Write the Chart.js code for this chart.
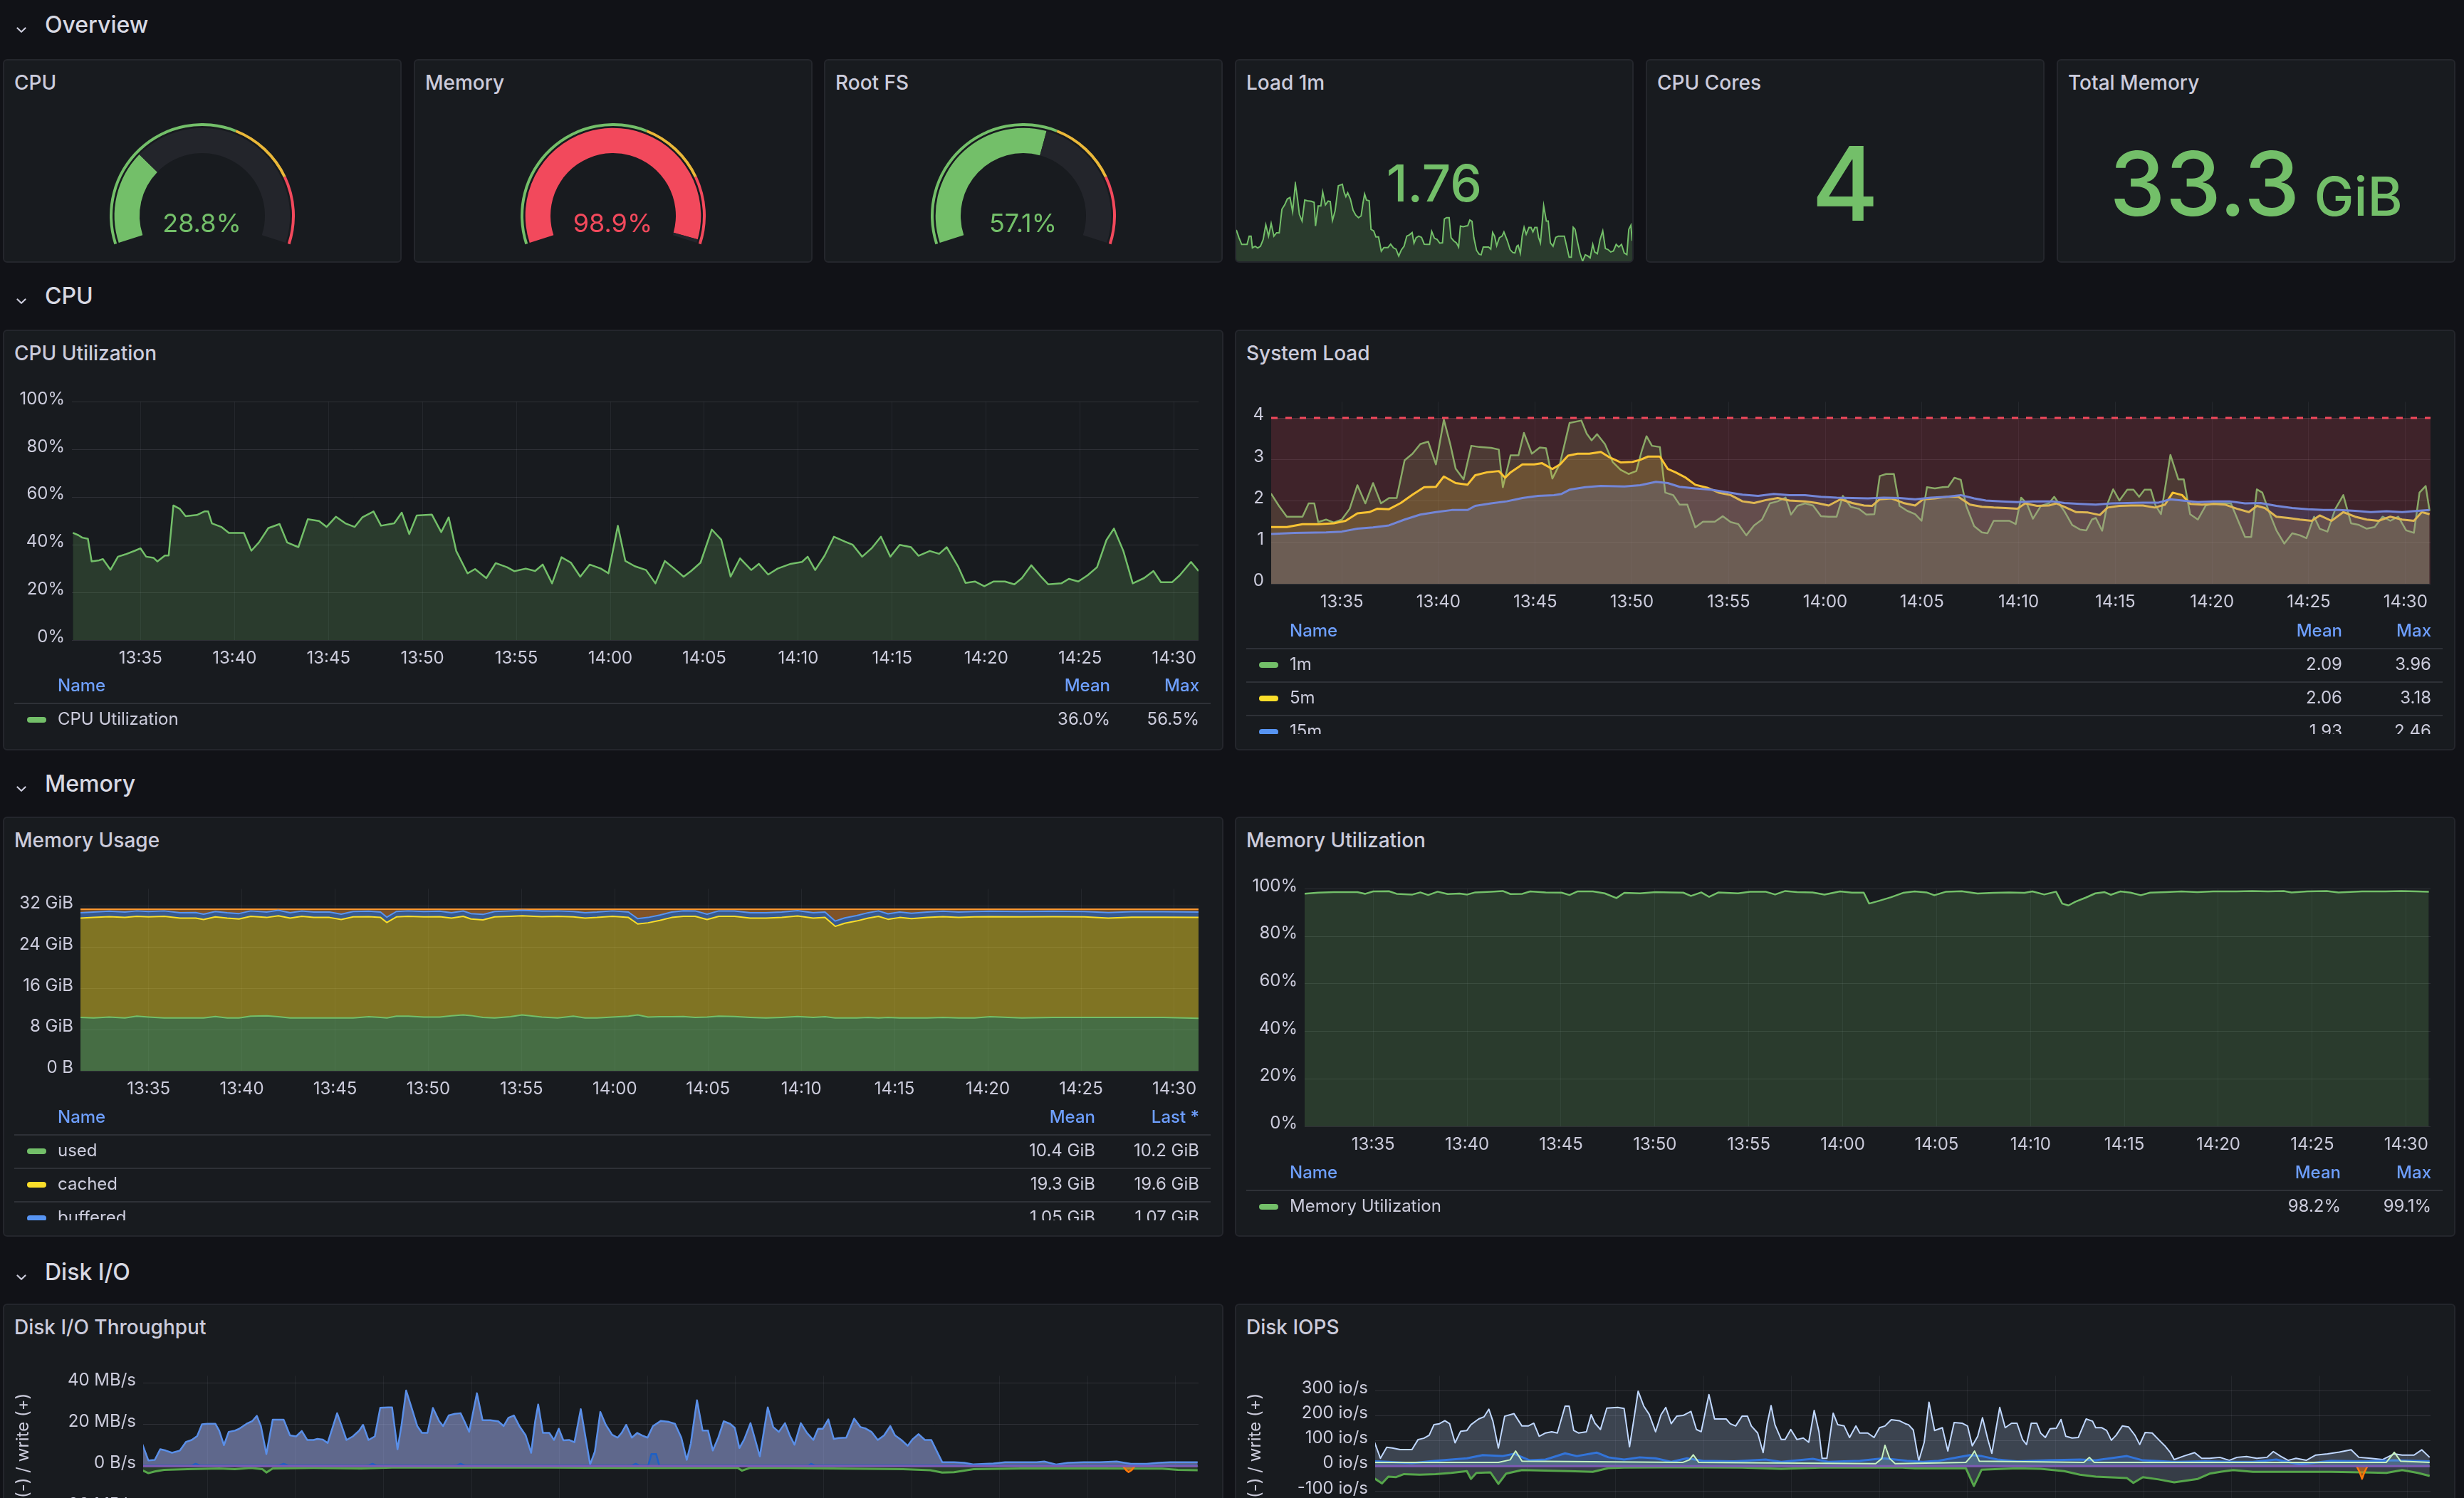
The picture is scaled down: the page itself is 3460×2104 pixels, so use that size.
<!DOCTYPE html>
<html><head><meta charset="utf-8">
<script src="https://cdn.jsdelivr.net/npm/chart.js@4.4.1/dist/chart.umd.min.js"></script>
<style>
html,body{margin:0;padding:0}
body{width:3460px;height:2104px;overflow:hidden;background:#111217;position:relative;font-family:Inter,"Noto Sans",sans-serif;color:#ccccdc}
</style></head><body>
<script>
// ---------------- DATA ----------------
const rowTitles = ['Overview', 'CPU', 'Memory', 'Disk I/O'];
const timeTicks = [5, 10, 15, 20, 25, 30, 35, 40, 45, 50, 55, 60]; // minutes after 13:30
const timeLabels = ['13:35','13:40','13:45','13:50','13:55','14:00','14:05','14:10','14:15','14:20','14:25','14:30'];

const gaugeNames = ['CPU', 'Memory', 'Root FS'];
const gaugeValues = [28.8, 98.9, 57.1];
const gaugeThresholds = [60, 80];
const loadStat = '1.76';
const coresStat = '4';
const totalMemStat = ['33.3', 'GiB'];

const cpuTimes = [1.4,1.7,1.9,2.2,2.4,2.8,3.0,3.4,3.8,4.2,4.7,5.0,5.3,5.7,5.9,6.3,6.5,6.75,7.1,7.4,8.0,8.4,8.6,8.8,9.3,9.7,10.5,10.9,11.3,11.8,12.4,12.8,13.4,13.9,14.5,14.9,15.4,15.9,16.4,16.8,17.4,17.8,18.5,18.9,19.3,19.7,20.5,21.0,21.4,21.8,22.4,22.8,23.4,23.9,24.5,24.9,25.5,26.0,26.4,26.9,27.4,27.9,28.4,28.9,29.5,29.9,30.4,30.8,31.3,31.9,32.4,32.9,33.4,33.9,34.3,34.8,35.4,35.9,36.4,36.9,37.5,37.9,38.4,38.9,39.6,40.2,40.5,40.9,41.4,41.9,42.5,42.9,43.4,43.9,44.4,44.9,45.4,46.0,46.4,47.0,47.5,47.9,48.5,48.9,49.4,49.9,50.4,51.0,51.5,51.9,52.4,52.9,53.3,54.0,54.4,54.9,55.4,55.9,56.4,56.8,57.3,57.8,58.4,58.9,59.3,59.9,60.3,60.9,61.3];
const cpuValues = [45,44,43,42.5,33,33.5,34,29.5,35,36,37.5,38.5,35,34.5,33,35.5,35.5,56.5,55,52,52.5,54,54,49,47.5,45,45,37.5,41,47,48.7,41,39,50.7,50,47.5,51.8,49,47.5,51.5,54,48,49,53.5,44.5,52.3,52.7,45.3,51.5,37.4,28,29.8,26,32.3,30.6,28.9,30,29,31.7,23.8,34.8,32.5,26.6,31.7,30,28,48,33.2,31,29.4,23.8,33.2,30,26.6,29,32.5,46.4,42.2,26.6,34.3,29.4,32,27.5,30,32,32.8,35,29.4,35.4,43.4,41.3,40,35,38.5,43.4,35,40,39,35.4,37.4,36.2,39,31,24,24.6,22.6,24.6,24.6,23.4,26,31.4,26.8,23.4,23.8,25.7,24.6,27.2,30.6,42,46.8,37.4,23.8,26,29,24.3,24.3,27.2,32.8,29];

const load1mTimes = [1.34,1.75,2.16,2.56,2.97,3.29,3.58,3.78,4.19,4.59,5.0,5.41,5.81,6.22,6.62,7.03,7.44,7.84,8.25,8.66,9.06,9.47,9.87,10.28,10.61,10.89,11.3,11.7,12.11,12.72,13.12,13.33,13.73,14.14,14.42,14.83,15.24,15.56,15.89,16.29,16.78,17.39,17.67,17.92,18.2,18.61,19.01,19.42,19.83,20.23,20.52,20.76,21.04,21.45,21.73,22.14,22.47,22.87,23.28,23.68,24.29,24.7,25.11,25.51,25.92,26.32,26.73,27.14,27.54,27.95,28.23,28.56,28.96,29.37,29.78,30.18,30.59,30.91,31.32,31.73,32.13,32.54,32.82,33.15,33.55,33.84,34.24,34.65,34.98,35.26,35.67,36.07,36.36,36.68,37.01,37.29,37.7,38.1,38.39,38.71,39.12,39.52,39.85,40.13,40.42,40.74,41.15,41.56,41.84,42.08,42.37,42.77,43.18,43.5,43.79,43.99,44.32,44.6,44.89,45.21,45.62,45.94,46.23,46.51,46.84,47.08,47.36,47.85,48.26,48.54,48.87,49.27,49.68,50.08,50.49,50.98,51.38,51.71,52.03,52.32,52.6,52.93,53.33,53.74,54.15,54.55,54.88,55.28,55.57,55.97,56.38,56.79,57.19,57.6,58.0,58.41,58.82,59.22,59.63,60.04,60.44,60.73,61.05,61.25];
const load1mValues = [2.18,1.88,1.62,1.62,1.62,1.94,1.94,1.49,1.55,1.48,1.55,1.81,2.38,1.94,2.43,1.94,2.07,2.07,2.98,3.14,3.37,3.43,2.88,3.96,3.37,2.78,2.52,3.33,3.30,3.28,3.24,2.33,3.1,3.1,3.64,3.14,3.29,3.27,2.54,2.91,3.88,3.94,3.62,3.46,3.61,3.37,2.94,2.75,2.65,2.72,3.22,3.56,3.33,3.30,2.2,2.14,1.91,1.91,1.36,1.5,1.5,1.63,1.49,1.44,1.17,1.41,1.55,1.94,1.99,2.08,1.67,1.88,1.94,1.89,1.63,1.62,1.62,2.12,1.86,1.81,1.67,1.68,2.6,2.65,2.65,1.88,1.76,1.68,1.52,2.33,2.3,2.33,2.34,2.56,2.51,1.88,1.39,1.24,1.22,1.52,1.52,1.52,1.44,2.08,1.94,1.57,1.88,1.94,2.1,1.94,1.75,1.42,1.31,1.29,1.55,1.59,1.28,1.94,2.28,2.01,2.27,2.27,2.1,2.27,2.27,1.89,1.68,3.11,2.52,2.52,1.68,1.55,1.89,1.94,1.94,1.94,1.49,1.13,1.13,2.28,2.2,1.76,1.29,0.97,1.22,1.17,1.10,1.62,1.33,1.26,1.81,2.14,1.46,1.42,1.33,1.37,1.62,1.52,1.62,1.29,1.23,2.2,2.36,1.76];

const load5mTimes = [1.34,2.16,2.97,3.78,4.59,5.2,5.81,6.42,6.83,7.44,8.05,8.66,9.26,9.87,10.28,10.89,11.5,11.9,12.51,13.12,13.45,13.73,14.34,14.95,15.36,15.89,16.29,16.7,17.19,17.8,18.4,18.81,19.42,20.03,20.43,20.84,21.45,21.86,22.26,22.79,23.28,23.89,24.5,25.11,25.72,26.32,26.93,27.54,28.15,28.96,29.57,30.18,30.79,31.4,32.01,32.42,32.82,33.43,34.04,34.65,35.06,35.67,36.28,36.88,37.49,38.1,38.71,39.32,39.93,40.34,40.95,41.56,41.96,42.45,42.98,43.59,44.2,44.6,45.21,45.82,46.43,47.04,47.57,47.97,48.46,48.87,49.48,50.08,50.69,51.3,51.91,52.32,52.73,53.33,53.94,54.55,55.16,55.57,56.18,56.79,57.4,58.0,58.61,59.22,59.83,60.44,60.85,61.25];
const load5mValues = [1.37,1.37,1.44,1.44,1.46,1.52,1.70,1.73,1.81,1.80,1.95,2.15,2.33,2.34,2.59,2.43,2.39,2.62,2.69,2.72,2.56,2.69,2.88,2.88,2.91,2.77,2.88,3.09,3.14,3.14,3.18,3.06,2.93,2.94,2.99,3.07,3.07,2.77,2.69,2.56,2.39,2.32,2.2,2.14,1.99,1.95,2.02,2.07,2.01,1.99,1.95,1.89,2.04,1.95,1.89,1.88,2.04,2.06,1.95,1.89,2.04,2.06,2.1,2.1,1.91,1.86,1.84,1.83,1.81,1.94,1.88,1.89,1.94,1.84,1.73,1.72,1.66,1.84,1.88,1.89,1.89,1.84,1.91,2.2,2.14,1.93,1.91,1.93,1.91,1.81,1.73,1.88,1.83,1.62,1.59,1.55,1.52,1.65,1.52,1.73,1.62,1.55,1.52,1.62,1.55,1.52,1.73,1.68];

const load15mTimes = [1.34,2.56,4.19,5.0,5.81,6.62,7.44,8.25,9.06,9.87,10.69,11.5,11.9,12.72,13.53,14.34,15.15,15.97,16.37,16.78,17.59,18.4,19.62,20.43,21.25,21.86,22.47,23.28,24.09,24.9,25.72,26.53,27.34,28.15,28.96,29.78,30.59,31.4,32.21,33.03,33.84,34.65,35.46,36.28,37.01,37.7,38.31,39.12,39.93,40.74,41.76,42.37,43.18,43.99,44.8,45.62,46.43,47.24,47.85,48.46,49.27,50.08,50.9,51.71,52.52,53.33,54.15,54.96,55.77,56.58,57.4,58.21,59.02,59.83,60.64,61.25];
const load15mValues = [1.2,1.23,1.24,1.26,1.33,1.36,1.41,1.55,1.67,1.73,1.78,1.78,1.88,1.94,1.99,2.07,2.12,2.14,2.17,2.27,2.33,2.36,2.35,2.38,2.46,2.43,2.34,2.3,2.27,2.21,2.15,2.12,2.17,2.14,2.14,2.1,2.08,2.07,2.06,2.08,2.07,2.04,2.08,2.1,2.14,2.06,2.01,1.99,1.97,1.99,1.99,1.95,1.93,1.91,1.94,1.95,1.96,1.96,2.04,2.01,1.97,1.99,1.99,1.94,1.95,1.88,1.83,1.8,1.78,1.78,1.76,1.73,1.75,1.73,1.76,1.78];
const loadThreshold = 4;

const memTimes = [1.29,2.05,2.89,3.73,4.37,5.0,5.84,6.69,7.53,7.95,8.58,9.22,9.85,10.48,11.33,11.96,12.59,13.22,13.86,14.7,15.33,15.97,16.81,17.44,17.78,18.29,18.92,19.76,20.61,21.24,21.87,22.29,22.93,23.56,24.4,25.03,26.09,26.93,27.78,28.41,29.04,29.88,30.73,31.23,31.78,32.41,33.05,33.68,34.31,34.95,35.58,36.42,37.26,38.11,38.95,39.8,40.64,41.27,41.82,42.33,42.96,43.59,44.14,44.65,45.28,45.91,46.75,47.6,48.44,49.29,50.13,51.82,53.5,55.19,56.46,57.72,59.41,61.31];
const memUsed = [10.40,10.29,10.46,10.29,10.63,10.46,10.29,10.29,10.29,10.29,10.57,10.29,10.29,10.63,10.70,10.52,10.29,10.29,10.29,10.29,10.29,10.29,10.52,10.40,10.29,10.63,10.63,10.46,10.46,10.70,10.86,10.75,10.40,10.29,10.52,10.86,10.46,10.29,10.63,10.29,10.29,10.46,10.63,10.86,10.46,10.52,10.52,10.57,10.40,10.46,10.63,10.57,10.40,10.29,10.40,10.57,10.40,10.52,10.29,10.29,10.29,10.40,10.29,10.40,10.29,10.29,10.29,10.40,10.29,10.29,10.52,10.29,10.40,10.40,10.40,10.40,10.40,10.20];
const memCached = [19.31,19.54,19.54,19.54,19.43,19.48,19.77,19.42,19.42,19.14,19.37,19.42,19.25,19.43,19.13,19.65,19.42,19.77,19.54,19.54,19.14,19.65,19.48,19.43,18.56,19.31,19.43,19.48,19.54,19.01,19.2,18.79,18.97,19.65,19.54,19.31,19.54,19.77,19.31,19.42,19.54,19.6,19.2,17.7,18.33,18.73,19.31,19.49,19.66,18.97,19.43,19.49,19.31,19.42,19.43,19.54,19.31,19.31,17.81,18.42,18.85,19.31,19.77,19.08,19.54,19.31,19.54,19.6,19.54,19.65,19.48,19.65,19.6,19.54,19.31,19.49,19.49,19.63];
const memBuffered = [1.04,1.05,1.05,1.06,1.05,1.04,1.05,1.05,1.06,1.05,1.05,1.04,1.05,1.05,1.06,1.05,1.05,1.04,1.05,1.05,1.05,1.05,1.06,1.05,1.04,1.05,1.05,1.05,1.06,1.05,1.04,1.05,1.05,1.05,1.05,1.06,1.05,1.05,1.04,1.05,1.05,1.05,1.05,1.03,1.04,1.05,1.05,1.06,1.05,1.05,1.05,1.04,1.05,1.05,1.06,1.05,1.05,1.05,1.03,1.04,1.05,1.05,1.05,1.06,1.05,1.05,1.06,1.05,1.06,1.06,1.06,1.06,1.07,1.06,1.07,1.07,1.07,1.07];
const memFree = [0.70,0.57,0.40,0.56,0.34,0.47,0.34,0.69,0.68,0.97,0.46,0.70,0.86,0.34,0.56,0.23,0.69,0.35,0.57,0.57,0.97,0.46,0.39,0.57,1.56,0.46,0.34,0.46,0.39,0.69,0.35,0.86,1.03,0.46,0.34,0.22,0.40,0.34,0.47,0.69,0.57,0.34,0.57,1.86,1.62,1.15,0.57,0.33,0.34,0.97,0.34,0.35,0.69,0.69,0.56,0.29,0.69,0.57,2.32,1.70,1.26,0.69,0.34,0.91,0.57,0.80,0.56,0.40,0.56,0.45,0.39,0.45,0.38,0.45,0.67,0.49,0.49,0.55];

const memUtilTimes = [1.32,2.07,2.91,4.16,4.58,5.0,5.84,6.25,7.09,7.51,7.93,8.43,8.97,9.6,10.01,10.43,11.27,11.9,12.31,12.94,13.36,14.19,15.03,15.45,15.87,16.7,17.33,17.95,18.37,19.21,20.04,20.88,21.51,21.92,22.47,22.89,23.39,24.43,25.06,25.89,26.4,26.94,27.57,28.4,29.03,29.86,30.49,31.12,31.41,31.95,32.58,33.21,33.83,34.46,34.88,35.51,36.34,37.18,38.01,38.85,39.68,40.1,40.73,41.36,41.69,42.02,42.4,42.94,43.45,43.95,44.28,44.78,45.33,45.87,46.37,47.21,48.04,48.88,49.72,50.97,51.8,52.64,53.48,53.9,54.73,55.77,56.4,57.65,58.91,59.74,60.58,61.21];
const memUtilValues = [97.9,98.4,98.6,98.6,97.9,98.9,99.0,97.9,97.6,98.5,97.4,98.8,97.8,98.0,97.6,98.5,98.8,99.1,97.8,97.9,98.9,98.5,98.4,97.4,98.9,98.9,98.1,96.1,98.3,98.1,98.6,98.5,98.4,97.0,98.5,96.6,98.5,98.1,98.8,98.8,97.6,99.1,98.6,98.5,97.6,98.9,98.4,98.4,93.8,95.0,96.5,98.3,98.9,98.5,97.3,98.8,99.0,98.0,98.3,98.5,98.3,98.9,97.6,98.8,93.8,93.0,94.6,96.3,98.1,98.6,97.5,98.9,98.4,97.3,98.4,98.6,98.9,98.6,98.9,98.9,99.1,98.9,99.1,98.5,98.9,99.1,98.5,98.9,98.9,99.1,98.9,98.8];

const diskWriteTimes = [1.29,1.65,2.01,2.32,2.63,2.99,3.44,3.79,4.11,4.42,4.69,5.0,5.45,5.67,5.94,6.21,6.56,6.79,7.23,7.54,7.81,8.04,8.35,8.71,9.33,9.69,10.04,10.36,10.67,11.03,11.25,11.56,11.83,12.14,12.37,12.63,12.9,13.26,13.62,13.84,14.15,14.51,14.82,15.27,15.49,15.8,16.03,16.29,16.61,16.92,17.19,17.5,17.81,18.17,18.39,18.71,19.06,19.38,19.6,19.87,20.31,20.63,21.07,21.52,21.83,22.1,22.41,22.72,23.08,23.39,23.62,23.79,24.06,24.42,24.69,24.96,25.22,25.54,25.85,26.21,26.47,26.74,27.01,27.32,27.63,27.99,28.3,28.53,28.79,29.11,29.42,29.69,30.0,30.31,30.76,31.21,31.56,31.92,32.23,32.46,32.81,33.13,33.44,33.71,34.02,34.33,34.69,34.96,35.22,35.49,35.85,36.12,36.38,36.83,37.14,37.46,37.81,38.08,38.35,38.71,39.06,39.42,39.69,39.96,40.27,40.58,40.85,41.29,41.74,42.1,42.37,42.72,43.08,43.44,43.79,44.06,44.42,44.78,45.04,45.4,45.76,46.12,46.38,46.74,47.41,47.99,48.53,49.2,49.64,50.31,51.21,52.1,52.54,53.21,53.88,54.78,55.67,56.65,57.46,58.35,59.02,59.69,61.25];
const diskWriteValues = [10.9,2.7,3.0,8.1,7.5,6.4,7.5,11.7,12.6,14.5,20.1,20.4,20.4,17.1,10.1,16.5,17.1,17.9,20.4,21.6,24.2,19.3,5.8,22.4,22.4,14.8,14.3,16.9,12.6,12.6,13.1,12.8,11.1,19.3,25.5,19.3,12.6,14.3,17.1,19.9,12.6,14.3,28.1,28.3,28.3,8.1,19.9,36.4,27.8,19.3,16.0,16.0,28.0,21.6,19.3,24.4,25.2,25.5,21.6,16.5,35.1,22.1,22.1,21.6,19.3,23.3,24.4,19.3,14.8,6.4,21.6,29.7,16.0,16.0,12.6,18.0,12.4,12.6,11.5,27.4,14.3,0.8,7.0,26.1,19.9,15.1,13.7,16.0,19.9,13.7,16.0,14.8,13.7,19.3,21.8,21.3,20.4,13.7,3.0,10.9,31.7,17.1,17.1,7.5,13.7,21.6,20.4,18.4,8.7,12.8,20.7,12.6,4.7,28.3,18.8,16.5,20.7,14.8,10.3,20.7,16.0,12.6,18.0,18.0,22.5,13.1,13.5,13.7,22.9,18.8,18.2,16.5,12.6,14.8,19.3,14.8,12.6,9.8,12.8,15.4,12.6,12.6,8.1,1.9,1.9,1.6,0.8,1.1,1.3,1.9,1.9,1.9,2.2,0.8,1.6,1.9,1.9,2.2,1.1,1.1,1.6,1.9,1.9];
const diskWrite2Times = [1.29,3.88,4.11,4.33,4.6,8.79,9.06,9.33,9.6,13.93,14.15,14.38,14.6,18.84,19.15,19.38,19.64,28.88,29.11,29.33,29.55,30.04,30.22,30.49,30.67,38.93,39.15,39.29,39.51,46.74,48.53,61.25];
const diskWrite2Values = [0.2,0.2,0.3,1.1,0.3,0.2,0.3,1.1,0.3,0.2,0.3,1.1,0.3,0.2,0.3,1.1,0.3,0.2,0.3,1.1,0.3,0.3,5.8,5.8,0.3,0.2,0.3,1.1,0.3,0.3,0.3,0.2];
const diskReadTimes = [1.29,1.65,2.01,2.54,3.88,5.67,6.56,7.46,8.13,8.35,8.71,11.03,13.71,15.49,19.96,24.42,28.88,33.35,35.13,35.36,35.8,37.81,41.38,44.51,46.07,46.74,47.41,48.53,51.21,55.67,59.24,60.13,61.25];
const diskReadValues = [-2.0,-3.4,-2.6,-1.8,-1.5,-1.1,-1.5,-0.9,-1.5,-3.1,-1.1,-0.9,-1.1,-0.7,-0.7,-0.7,-0.9,-0.9,-0.9,-2.2,-0.9,-0.9,-1.2,-1.5,-2.0,-3.1,-2.9,-1.5,-1.1,-1.1,-1.2,-1.8,-2.0];
const diskRead2Times = [57.01,57.19,57.32,57.5,57.68];
const diskRead2Values = [0,-2.0,-2.9,-2.0,0];
const diskZeroTimes = [1.29, 61.25];
const diskZeroValues = [0, 0];

const iopsWriteTimes = [1.29,1.65,2.01,2.32,2.77,3.44,3.79,4.11,4.42,4.69,5.0,5.31,5.58,5.89,6.21,6.56,6.79,7.23,7.54,7.81,8.04,8.35,8.71,9.24,9.69,10.04,10.36,10.67,11.03,11.38,11.7,12.14,12.37,12.63,12.9,13.35,13.62,13.84,14.15,14.51,15.13,15.49,15.8,16.03,16.29,16.61,16.92,17.28,17.59,17.86,18.17,18.48,18.84,19.29,19.6,19.87,20.31,20.63,21.29,21.52,21.83,22.19,22.5,22.72,23.08,23.39,23.62,23.84,24.06,24.42,24.64,24.96,25.31,25.67,25.98,26.29,26.56,26.74,27.01,27.37,27.63,27.99,28.3,28.66,28.88,29.33,29.69,30.0,30.31,30.67,31.12,31.47,31.65,31.92,32.23,32.54,32.81,33.13,33.57,33.88,34.24,34.69,35.0,35.27,35.58,35.85,36.16,36.38,36.83,37.14,37.5,37.81,38.13,38.35,38.62,38.93,39.15,39.42,39.69,40.04,40.31,40.58,40.94,41.29,41.74,42.1,42.28,42.63,42.9,43.17,43.44,43.79,44.15,44.51,44.78,45.09,45.49,45.85,46.21,46.52,46.74,47.28,47.9,48.3,48.75,49.33,49.87,50.31,50.85,51.43,52.01,52.37,52.77,53.21,53.66,54.24,54.78,55.45,56.12,56.79,57.23,57.9,58.57,59.24,59.69,60.36,60.8,61.25];
const iopsWriteValues = [100,31,75,72,66,66,106,111,123,165,169,181,169,93,139,142,165,188,197,227,179,72,199,209,160,160,171,119,132,137,132,239,239,142,132,137,205,171,146,231,234,230,77,179,299,239,206,137,205,234,169,199,202,218,146,137,285,188,188,169,160,199,199,160,132,54,169,241,165,106,106,146,106,112,95,222,137,31,31,211,165,160,114,160,132,132,114,153,160,185,181,169,165,144,21,95,255,142,153,60,174,171,160,81,119,193,105,51,234,153,171,171,105,86,171,171,132,114,149,151,186,119,112,114,188,179,153,153,142,103,123,160,156,123,86,134,132,106,81,54,26,40,54,31,31,35,23,35,38,31,35,58,40,23,31,23,44,49,56,65,35,31,26,49,44,44,65,35];
const iopsWrite2Times = [1.29,2.1,3.44,4.78,6.56,7.46,8.57,9.24,10.13,11.03,12.14,12.81,13.93,14.6,15.49,16.38,17.28,18.17,19.06,19.96,21.74,23.53,24.42,26.21,27.1,28.88,30.22,30.89,31.56,32.46,33.35,35.13,35.8,36.7,37.81,39.6,41.38,42.28,44.06,44.96,46.74,48.53,50.31,51.21,52.54,53.88,55.67,57.46,59.24,61.25];
const iopsWrite2Values = [19,17,12,21,31,44,40,49,23,26,51,40,54,35,26,35,31,17,31,21,19,26,17,29,17,21,31,26,21,17,21,44,40,26,19,23,26,23,40,23,17,19,17,17,26,7,21,19,23,19];
const iopsWrite3Times = [1.29,8.35,9.02,9.33,9.69,18.84,19.2,19.42,19.73,29.78,30.13,30.31,30.58,30.89,34.91,35.22,35.4,35.67,41.61,41.92,42.19,58.79,59.24,59.6,61.25];
const iopsWrite3Values = [15,15,25,60,20,15,25,45,15,10,30,83,30,10,15,40,60,20,15,35,15,15,55,20,15];
const iopsReadTimes = [1.29,1.74,2.1,2.54,2.99,3.88,4.78,5.67,6.56,6.79,7.1,7.9,8.35,8.79,9.69,11.03,12.37,13.71,14.6,15.49,17.72,19.96,22.19,24.42,26.65,28.88,31.12,32.01,33.35,34.91,35.36,35.8,37.81,39.15,40.49,41.38,42.28,44.06,44.42,44.96,45.85,46.74,48.08,48.75,49.42,50.09,51.21,53.44,55.67,57.46,58.79,59.69,60.58,61.25];
const iopsReadValues = [-48,-69,-42,-44,-32,-34,-32,-27,-20,-51,-27,-25,-71,-30,-16,-18,-20,-23,-8,-6,-5,-5,-6,-11,-6,-6,-5,-9,-9,-9,-79,-14,-9,-11,-20,-34,-42,-48,-67,-44,-53,-65,-51,-30,-22,-16,-23,-23,-23,-25,-27,-16,-27,-39];
const iopsRead2Times = [57.1,57.28,57.41,57.54,57.72];
const iopsRead2Values = [0,-25,-51,-25,0];

const cpuLegend = {headers:['Name','Mean','Max'], names:['CPU Utilization'], colors:['#73BF69'], c1:['36.0%'], c2:['56.5%']};
const loadLegend = {headers:['Name','Mean','Max'], names:['1m','5m','15m'], colors:['#73BF69','#FADE2A','#5794F2'], c1:['2.09','2.06','1.93'], c2:['3.96','3.18','2.46']};
const memLegend = {headers:['Name','Mean','Last *'], names:['used','cached','buffered'], colors:['#73BF69','#FADE2A','#5794F2'], c1:['10.4 GiB','19.3 GiB','1.05 GiB'], c2:['10.2 GiB','19.6 GiB','1.07 GiB']};
const memUtilLegend = {headers:['Name','Mean','Max'], names:['Memory Utilization'], colors:['#73BF69'], c1:['98.2%'], c2:['99.1%']};
</script>
<script>
// ---------------- RENDERING ----------------
Chart.defaults.font.family = 'Inter';
Chart.defaults.color = '#ccccdc';
const GREEN = '#73BF69', YELLOW = '#EAB839', RED = '#F2495C';
const X_MIN = 1.35, X_MAX = 61.3;
const body = document.body;
const pts = (ts, vs) => ts.map((t, i) => ({x: t, y: vs[i]}));

function div(parent, css, html) {
  const d = document.createElement('div');
  d.style.cssText = css;
  if (html !== undefined) d.innerHTML = html;
  parent.appendChild(d);
  return d;
}
function panel(x, y, w, h, title) {
  const el = div(body, `position:absolute;left:${x}px;top:${y}px;width:${w}px;height:${h}px;background:#181b1f;border:2px solid #24262c;border-radius:6px;box-sizing:border-box;overflow:hidden`);
  const p = {x, y, w, h, el, ox: x + 2, oy: y + 2, iw: w - 4};
  if (title) div(el, `position:absolute;left:14px;top:${33.5 - 14 - 3}px;font-size:28px;line-height:28px;font-weight:500;color:#ccccdc;white-space:nowrap`, title);
  return p;
}
function ptext(c, txt, x, y, size, color, align, weight) {
  let css = `position:absolute;top:${y - size / 2 - c.oy}px;font-size:${size}px;line-height:${size}px;color:${color};font-weight:${weight || 400};white-space:nowrap;`;
  if (align === 'right') css += `right:${c.ox + c.iw - x}px;text-align:right;`;
  else if (align === 'center') css += `left:${x - c.ox - 1500}px;width:3000px;text-align:center;`;
  else css += `left:${x - c.ox}px;`;
  return div(c.el, css, txt);
}
function canvasAt(c, x, y, w, h) {
  const cv = document.createElement('canvas');
  cv.width = w; cv.height = h;
  cv.style.cssText = `position:absolute;left:${x - c.ox}px;top:${y - c.oy}px;width:${w}px;height:${h}px`;
  c.el.appendChild(cv);
  return cv;
}
const baseOpts = () => ({responsive: false, animation: false, devicePixelRatio: 1, events: [],
  plugins: {legend: {display: false}, tooltip: {enabled: false}}});

function timeSeries(p, s) {
  const padTop = 20, padRight = 30, xAxisH = 50;
  const cl = s.plotLeft - s.yAxisW, ct = s.plotTop - padTop;
  const cw = s.plotRight + padRight - cl, ch = padTop + (s.plotBottom - s.plotTop) + xAxisH;
  const cv = canvasAt(p, cl, ct, cw, ch);
  const o = baseOpts();
  o.layout = {padding: {top: padTop, right: padRight, left: 0, bottom: 0}};
  o.elements = {point: {radius: 0}, line: {tension: 0, borderJoinStyle: 'round'}};
  o.scales = {
    x: {type: 'linear', min: X_MIN, max: X_MAX,
      afterBuildTicks: sc => { sc.ticks = timeTicks.map(v => ({value: v})); },
      afterFit: sc => { sc.height = xAxisH; },
      ticks: {callback: v => timeLabels[timeTicks.indexOf(v)] || '', font: {size: 24}, color: '#ccccdc', padding: 11, maxRotation: 0, autoSkip: false},
      grid: {color: 'rgba(204,204,220,0.07)', lineWidth: 1, drawTicks: false},
      border: {display: false}},
    y: {type: 'linear', min: s.yMin, max: s.yMax, stacked: !!s.stacked,
      afterBuildTicks: sc => { sc.ticks = s.yTicks.map(v => ({value: v})); },
      afterFit: sc => { sc.width = s.yAxisW; },
      ticks: {callback: v => s.yLabels[s.yTicks.indexOf(v)], font: {size: 24}, color: '#ccccdc', padding: 10, labelOffset: -4},
      grid: {color: 'rgba(204,204,220,0.12)', lineWidth: 1, drawTicks: false},
      border: {display: false},
      title: s.yTitle ? {display: true, text: s.yTitle, color: '#ccccdc', font: {size: 24}, padding: {top: 7.6, bottom: 0}} : {display: false}}
  };
  return new Chart(cv, {type: 'line', data: {datasets: s.datasets}, options: o});
}
function legend(p, L, headerY, c1off) {
  const clipTop = headerY - 30, clipBottom = p.y + p.h - 23;
  const el = div(p.el, `position:absolute;left:0;top:${clipTop - p.oy}px;width:${p.iw}px;height:${clipBottom - clipTop}px;overflow:hidden`);
  const box = {el, ox: p.ox, oy: clipTop, iw: p.iw};
  const nameX = p.x + 77, swX = p.x + 34, c2 = p.x + p.w - 34, c1 = c2 - c1off;
  const hline = y => div(el, `position:absolute;left:${p.x + 16 - box.ox}px;width:${p.w - 34}px;top:${y - 1 - box.oy}px;height:2px;background:rgba(204,204,220,0.13)`);
  const blue = '#6E9FFF';
  ptext(box, L.headers[0], nameX, headerY - 1, 24, blue, 'left', 500);
  ptext(box, L.headers[1], c1, headerY - 1, 24, blue, 'right', 500);
  ptext(box, L.headers[2], c2, headerY - 1, 24, blue, 'right', 500);
  hline(headerY + 23.5);
  L.names.forEach((n, i) => {
    const y = headerY + 47 * (i + 1);
    div(el, `position:absolute;left:${swX - box.ox}px;top:${y - 4 - box.oy}px;width:27px;height:8px;border-radius:4px;background:${L.colors[i]}`);
    ptext(box, n, nameX, y - 1, 24, '#ccccdc', 'left');
    ptext(box, L.c1[i], c1, y - 1, 24, '#ccccdc', 'right');
    ptext(box, L.c2[i], c2, y - 1, 24, '#ccccdc', 'right');
    hline(y + 23.5);
  });
}

// Row headers
const rowY = [35, 416, 1101, 1787];
rowTitles.forEach((t, i) => {
  const y = rowY[i];
  div(body, `position:absolute;left:23px;top:${y - 4}px;width:14px;height:9px`,
    '<svg width="14" height="9" viewBox="0 0 14 9"><polyline points="1.5,1.5 7,6.8 12.5,1.5" fill="none" stroke="#ccccdc" stroke-width="2.2" stroke-linecap="round" stroke-linejoin="round"/></svg>');
  div(body, `position:absolute;left:63px;top:${y - 16}px;font-size:32px;line-height:32px;font-weight:500;color:#d8d9e3;white-space:nowrap`, t);
});

// Row 1
const r1x = [4, 581, 1157, 1734, 2311, 2888], r1y = 83, r1w = 560, r1h = 286;
gaugeNames.forEach((name, i) => {
  const p = panel(r1x[i], r1y, r1w, r1h, name);
  const v = gaugeValues[i];
  const cx = r1x[i] + 279.5, cy = 303, R = 130, k = 216 / 100, rest = 144;
  const col = v >= gaugeThresholds[1] ? RED : v >= gaugeThresholds[0] ? YELLOW : GREEN;
  const cv = canvasAt(p, cx - R, cy - R, 2 * R, 2 * R);
  const o = baseOpts();
  Object.assign(o, {rotation: -108, circumference: 360, cutout: 88, layout: {padding: 0}});
  const ds = (data, colors, weight) => ({data, backgroundColor: colors, weight, borderWidth: 0, hoverOffset: 0, hoverBorderWidth: 0, offset: 0});
  new Chart(cv, {type: 'doughnut', data: {datasets: [
    ds([gaugeThresholds[0] * k, (gaugeThresholds[1] - gaugeThresholds[0]) * k, (100 - gaugeThresholds[1]) * k, rest], [GREEN, YELLOW, RED, 'rgba(0,0,0,0)'], 4),
    ds([1], ['rgba(0,0,0,0)'], 2.7),
    ds([v * k, (100 - v) * k, rest], [col, '#23252b', 'rgba(0,0,0,0)'], 35.3)
  ]}, options: o});
  ptext(p, v.toFixed(1) + '%', cx, 313, 36, col, 'center', 400);
});
// Load 1m stat with sparkline
{
  const p = panel(r1x[3], r1y, r1w, r1h, 'Load 1m');
  const cv = canvasAt(p, p.ox, 255, p.iw, 112);
  const o = baseOpts();
  o.layout = {padding: {top: 3, bottom: 0, left: 0, right: 0}};
  o.scales = {x: {type: 'linear', display: false, min: load1mTimes[0], max: load1mTimes[load1mTimes.length - 1]},
              y: {display: false, min: Math.min(...load1mValues), max: Math.max(...load1mValues)}};
  new Chart(cv, {type: 'line', data: {datasets: [{data: pts(load1mTimes, load1mValues), borderColor: GREEN, borderWidth: 2,
    backgroundColor: 'rgba(115,191,105,0.2)', fill: 'start', pointRadius: 0, tension: 0, clip: 4}]}, options: o});
  ptext(p, loadStat, r1x[3] + 280, 257.5, 71, GREEN, 'center', 500);
}
{
  const p = panel(r1x[4], r1y, r1w, r1h, 'CPU Cores');
  ptext(p, coresStat, r1x[4] + 280, 257.5, 144, GREEN, 'center', 500);
}
{
  const p = panel(r1x[5], r1y, r1w, r1h, 'Total Memory');
  ptext(p, totalMemStat[0] + `<span style="font-size:75px;line-height:1"> ${totalMemStat[1]}</span>`, r1x[5] + 280, 257.5, 125, GREEN, 'center', 500);
}

// Row 2: CPU
const L = 4, R2 = 1734, W = 1714, H = 591;
{
  const p = panel(L, 463, W, H, 'CPU Utilization');
  timeSeries(p, {plotLeft: 101, plotRight: 1683, plotTop: 560, plotBottom: 899, yAxisW: 95,
    yMin: 0, yMax: 100, yTicks: [0, 20, 40, 60, 80, 100], yLabels: ['0%', '20%', '40%', '60%', '80%', '100%'],
    datasets: [{data: pts(cpuTimes, cpuValues), borderColor: GREEN, borderWidth: 2.5, backgroundColor: 'rgba(115,191,105,0.2)', fill: 'origin'}]});
  legend(p, cpuLegend, 964, 125);
}
{
  const p = panel(R2, 463, W, H, 'System Load');
  timeSeries(p, {plotLeft: 1785, plotRight: 3413, plotTop: 560, plotBottom: 820, yAxisW: 40,
    yMin: 0, yMax: 4.39, yTicks: [0, 1, 2, 3, 4], yLabels: ['0', '1', '2', '3', '4'],
    datasets: [
      {data: pts(load1mTimes, load1mValues), borderColor: GREEN, borderWidth: 2.5, backgroundColor: 'rgba(115,191,105,0.18)', fill: 'origin', order: 3},
      {data: pts(load5mTimes, load5mValues), borderColor: '#FADE2A', borderWidth: 3, backgroundColor: 'rgba(250,222,42,0.18)', fill: 'origin', order: 2},
      {data: pts(load15mTimes, load15mValues), borderColor: '#5794F2', borderWidth: 3, backgroundColor: 'rgba(87,148,242,0.2)', fill: 'origin', order: 1},
      {data: [{x: X_MIN, y: loadThreshold}, {x: X_MAX, y: loadThreshold}], borderColor: RED, borderWidth: 3, borderDash: [9, 11],
       backgroundColor: 'rgba(242,73,92,0.18)', fill: 'origin', order: 0}
    ]});
  legend(p, loadLegend, 887, 125);
}
// Row 3: Memory
{
  const p = panel(L, 1147, W, 590, 'Memory Usage');
  timeSeries(p, {plotLeft: 113, plotRight: 1683, plotTop: 1244, plotBottom: 1504, yAxisW: 100, stacked: true,
    yMin: 0, yMax: 35.4, yTicks: [0, 8, 16, 24, 32], yLabels: ['0 B', '8 GiB', '16 GiB', '24 GiB', '32 GiB'],
    datasets: [
      {data: pts(memTimes, memUsed), borderColor: GREEN, borderWidth: 2, backgroundColor: 'rgba(115,191,105,0.5)', fill: 'origin'},
      {data: pts(memTimes, memCached), borderColor: '#FADE2A', borderWidth: 2, backgroundColor: 'rgba(250,222,42,0.46)', fill: '-1'},
      {data: pts(memTimes, memBuffered), borderColor: '#5794F2', borderWidth: 2, backgroundColor: 'rgba(87,148,242,0.52)', fill: '-1'},
      {data: pts(memTimes, memFree), borderColor: '#FF9830', borderWidth: 2, backgroundColor: 'rgba(255,152,48,0.45)', fill: '-1'}
    ]});
  legend(p, memLegend, 1570, 146);
}
{
  const p = panel(R2, 1147, W, 590, 'Memory Utilization');
  timeSeries(p, {plotLeft: 1832, plotRight: 3413, plotTop: 1244, plotBottom: 1582, yAxisW: 90,
    yMin: 0, yMax: 100, yTicks: [0, 20, 40, 60, 80, 100], yLabels: ['0%', '20%', '40%', '60%', '80%', '100%'],
    datasets: [{data: pts(memUtilTimes, memUtilValues), borderColor: GREEN, borderWidth: 2.5, backgroundColor: 'rgba(115,191,105,0.2)', fill: 'origin'}]});
  legend(p, memUtilLegend, 1648, 127);
}
// Row 4: Disk
{
  const p = panel(L, 1831, W, 590, 'Disk I/O Throughput');
  timeSeries(p, {plotLeft: 201, plotRight: 1683, plotTop: 1928, plotBottom: 2186, yAxisW: 190, yTitle: 'read (-) / write (+)',
    yMin: -43.5, yMax: 43.5, yTicks: [-40, -20, 0, 20, 40], yLabels: ['-40 MB/s', '-20 MB/s', '0 B/s', '20 MB/s', '40 MB/s'],
    datasets: [
      {data: pts(diskWriteTimes, diskWriteValues), borderColor: '#5A8FE8', borderWidth: 2.5, backgroundColor: 'rgba(166,181,249,0.5)', fill: 'origin', order: 10},
      {data: pts(diskWrite2Times, diskWrite2Values), borderColor: '#1F60C4', borderWidth: 2.5, backgroundColor: 'rgba(31,96,196,0.35)', fill: 'origin', order: 5},
      {data: pts(diskReadTimes, diskReadValues), borderColor: '#56A64B', borderWidth: 3, backgroundColor: 'rgba(86,166,75,0.25)', fill: 'origin', order: 4},
      {data: pts(diskRead2Times, diskRead2Values), borderColor: '#FF780A', borderWidth: 2.5, backgroundColor: 'rgba(255,120,10,0.5)', fill: 'origin', order: 3},
      {data: pts(diskZeroTimes, diskZeroValues), borderColor: '#7E5BB5', borderWidth: 3, fill: false, order: 2}
    ]});
}
{
  const p = panel(R2, 1831, W, 590, 'Disk IOPS');
  timeSeries(p, {plotLeft: 1931, plotRight: 3413, plotTop: 1928, plotBottom: 2186, yAxisW: 190, yTitle: 'read (-) / write (+)',
    yMin: -360, yMax: 360, yTicks: [-300, -200, -100, 0, 100, 200, 300], yLabels: ['-300 io/s', '-200 io/s', '-100 io/s', '0 io/s', '100 io/s', '200 io/s', '300 io/s'],
    datasets: [
      {data: pts(iopsWriteTimes, iopsWriteValues), borderColor: '#C0D8FF', borderWidth: 2, backgroundColor: 'rgba(192,216,255,0.22)', fill: 'origin', order: 10},
      {data: pts(iopsWrite2Times, iopsWrite2Values), borderColor: '#3274D9', borderWidth: 3, backgroundColor: 'rgba(50,116,217,0.3)', fill: 'origin', order: 6},
      {data: pts(iopsWrite3Times, iopsWrite3Values), borderColor: '#C8F2C2', borderWidth: 2, backgroundColor: 'rgba(200,242,194,0.15)', fill: 'origin', order: 5},
      {data: pts(iopsReadTimes, iopsReadValues), borderColor: '#56A64B', borderWidth: 3, backgroundColor: 'rgba(192,216,255,0.18)', fill: 'origin', order: 4},
      {data: pts(iopsRead2Times, iopsRead2Values), borderColor: '#FF780A', borderWidth: 2.5, backgroundColor: 'rgba(255,120,10,0.5)', fill: 'origin', order: 3},
      {data: pts(diskZeroTimes, diskZeroValues), borderColor: '#7E5BB5', borderWidth: 3, fill: false, order: 2}
    ]});
}
</script>
</body></html>
